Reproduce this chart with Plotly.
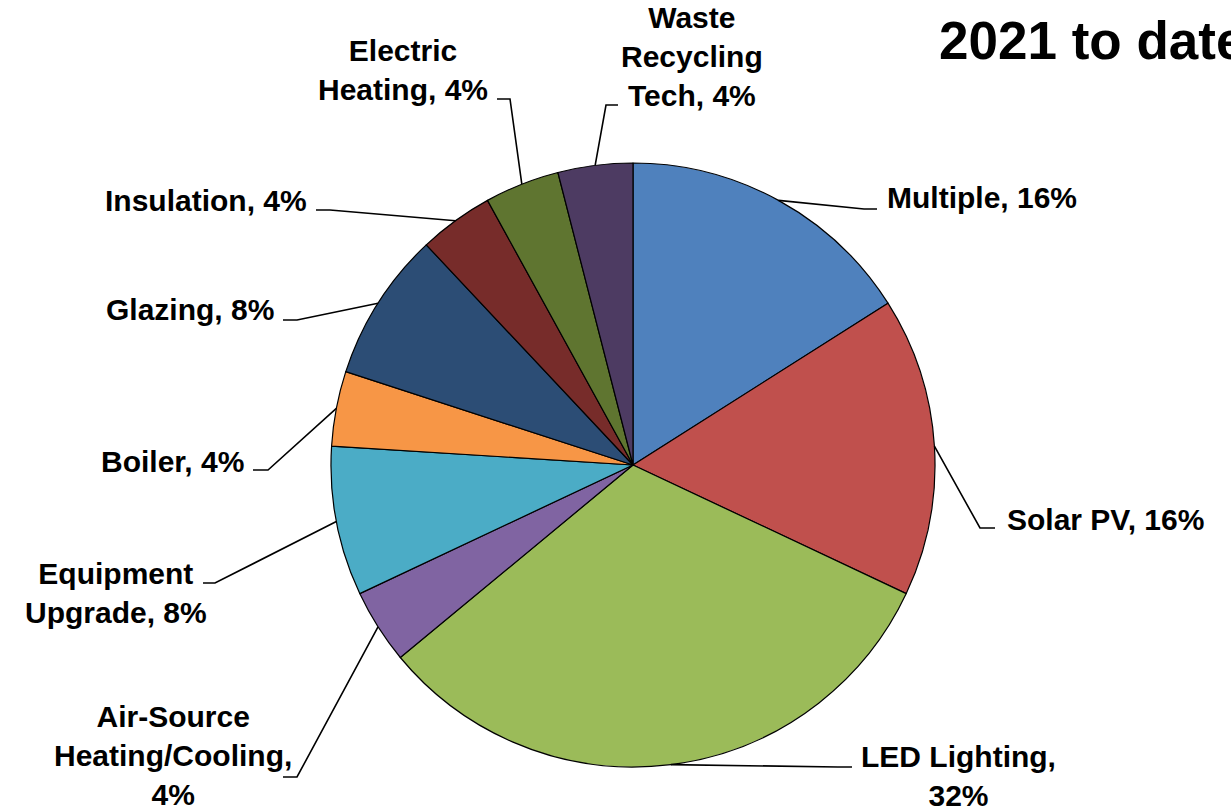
import math
import plotly.graph_objects as go

# ---- data ----
categories = ["Multiple", "Solar PV", "LED Lighting", "Air-Source Heating/Cooling",
              "Equipment Upgrade", "Boiler", "Glazing", "Insulation",
              "Electric Heating", "Waste Recycling Tech"]
values = [4, 4, 8, 1, 2, 1, 2, 1, 1, 1]
label_texts = ["Multiple, 16%", "Solar PV, 16%", "LED Lighting,<br>32%",
               "Air-Source<br>Heating/Cooling,<br>4%", "Equipment<br>Upgrade, 8%",
               "Boiler, 4%", "Glazing, 8%", "Insulation, 4%",
               "Electric<br>Heating, 4%", "Waste<br>Recycling<br>Tech, 4%"]
colors = ["#4F81BD", "#C0504D", "#9BBB59", "#8064A2", "#4BACC6",
          "#F79646", "#2C4D75", "#772C2A", "#5F7530", "#4D3B62"]
title_text = "2021 to date"

# ---- layout (pixels) ----
W, H = 1231, 812
CX, CY, R = 633, 465, 302
# label anchor (center px), xanchor, elbow point, end of horizontal tail
label_pos = [
    (982, 198, "center", (864, 209), (877, 209)),
    (1105, 519, "center", (980, 528), (995, 528)),
    (958, 776, "center", (838, 767), (852, 767)),
    (173, 755, "center", (297, 777), (283, 777)),
    (116, 593, "center", (215, 583), (203, 583)),
    (172, 461, "center", (268, 470), (253, 470)),
    (190, 310, "center", (297, 320), (283, 320)),
    (206, 200, "center", (330, 210), (316, 210)),
    (403, 70, "center", (510, 99), (497, 99)),
    (692, 57, "center", (606, 105), (618, 105)),
]

def px(x):
    return x / W

def py(y):
    return 1 - y / H

fig = go.Figure(go.Pie(
    labels=categories, values=values, sort=False, direction="clockwise",
    rotation=0, textinfo="none", hoverinfo="label+percent",
    marker=dict(colors=colors, line=dict(color="#000000", width=1.2)),
    domain=dict(x=[px(CX - R), px(CX + R)], y=[py(CY + R), py(CY - R)]),
    showlegend=False,
))

total = sum(values)
cum = 0
shapes = []
annotations = []
for v, txt, (lx, ly, anc, elbow, tail) in zip(values, label_texts, label_pos):
    mid = (cum + v / 2) / total * 2 * math.pi
    cum += v
    ex = CX + R * math.sin(mid)
    ey = CY - R * math.cos(mid)
    path = "M {:.5f},{:.5f} L {:.5f},{:.5f} L {:.5f},{:.5f}".format(
        px(ex), py(ey), px(elbow[0]), py(elbow[1]), px(tail[0]), py(tail[1]))
    shapes.append(dict(type="path", path=path, xref="paper", yref="paper",
                       line=dict(color="#000000", width=1.6)))
    annotations.append(dict(x=px(lx), y=py(ly), xref="paper", yref="paper",
                            text="<b>" + txt + "</b>", showarrow=False,
                            xanchor=anc, yanchor="middle", align="center",
                            font=dict(family="Liberation Sans, Arial", size=30,
                                      color="#000000")))

annotations.append(dict(x=px(937), y=py(41), xref="paper", yref="paper",
                        text="<b>" + title_text + "</b>", showarrow=False,
                        xanchor="left", yanchor="middle",
                        font=dict(family="Liberation Sans, Arial", size=53,
                                  color="#000000")))

fig.update_layout(width=W, height=H, margin=dict(l=0, r=0, t=0, b=0),
                  paper_bgcolor="white", plot_bgcolor="white",
                  shapes=shapes, annotations=annotations)

fig.write_html("out.html", config={"displayModeBar": False},
               post_script="document.body.style.margin='0px';"
                           "document.body.style.overflow='hidden';")
